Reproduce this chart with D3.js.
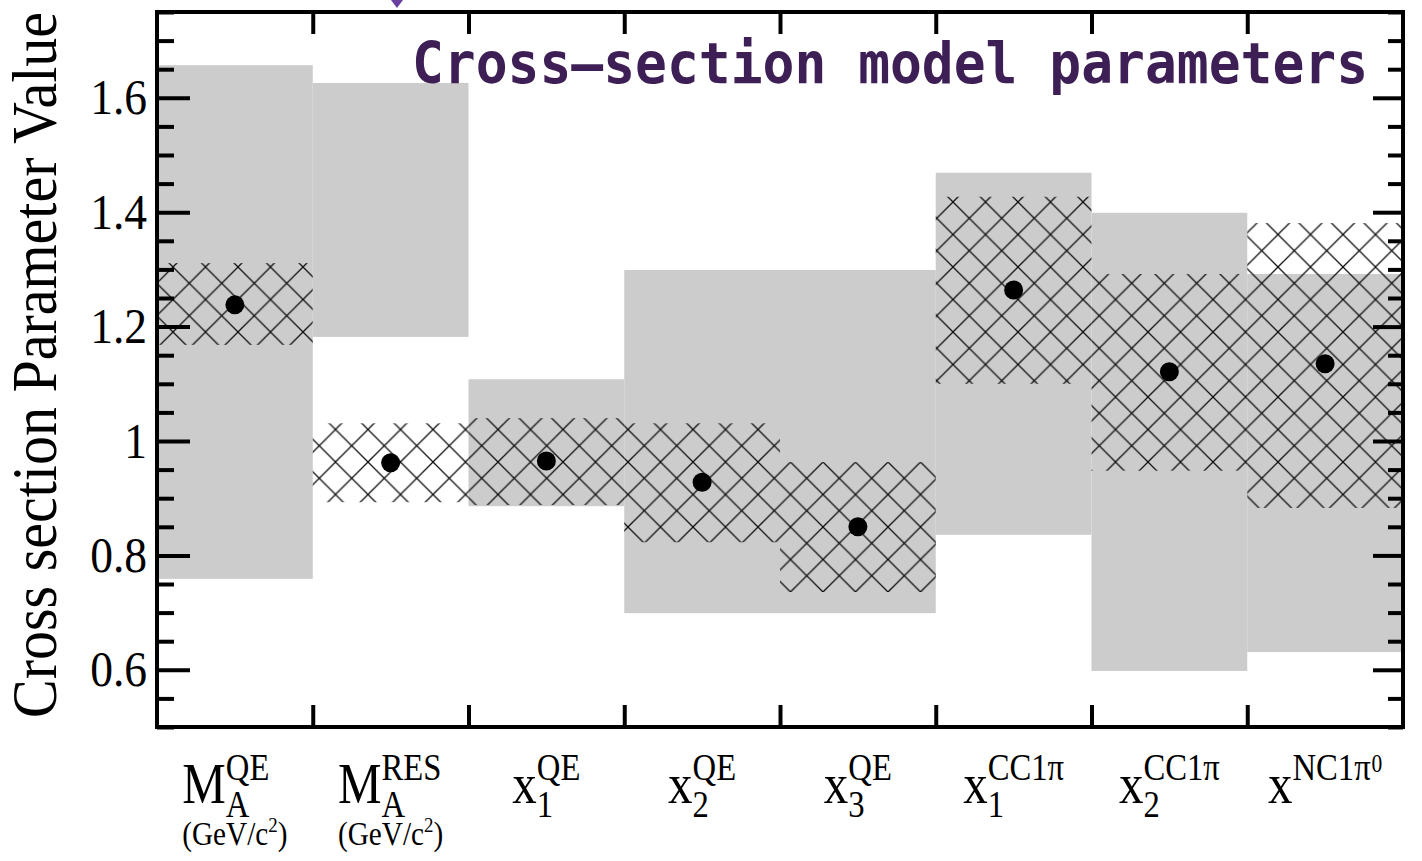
<!DOCTYPE html>
<html>
<head>
<meta charset="utf-8">
<script src="https://cdn.jsdelivr.net/npm/d3@7"></script>
<style>
  body { margin: 0; background: #fff; }
  svg { display: block; }
  text { font-family: "Liberation Serif", "Times New Roman", serif; fill: #000; }
</style>
</head>
<body>
<script>
// bin labels (main symbol, subscript, superscript, units)
var labelMain = ["M", "M", "x", "x", "x", "x", "x", "x"];
var labelSub = ["A", "A", "1", "2", "3", "1", "2", ""];
var labelSup = ["QE", "RES", "QE", "QE", "QE", "CC1\u03c0", "CC1\u03c0", "NC1\u03c0"];
var labelSupSup = ["", "", "", "", "", "", "", "0"];
var labelUnit = ["(GeV/c", "(GeV/c", "", "", "", "", "", ""];

// central values (black dots)
var centralValue = [1.238, 0.962, 0.965, 0.928, 0.850, 1.264, 1.121, 1.135];
// gray band
var grayLow = [0.759, 1.182, 0.886, 0.699, 0.699, 0.836, 0.598, 0.631];
var grayHigh = [1.657, 1.626, 1.108, 1.299, 1.299, 1.469, 1.399, 1.292];
// hatched band
var hatchLow = [1.168, 0.893, 0.888, 0.823, 0.736, 1.100, 0.948, 0.883];
var hatchHigh = [1.311, 1.031, 1.040, 1.031, 0.963, 1.427, 1.292, 1.381];

var yTicks = [0.6, 0.8, 1, 1.2, 1.4, 1.6];
var yTickLabels = ["0.6", "0.8", "1", "1.2", "1.4", "1.6"];

var titleText = "Cross\u2013section model parameters";
var yTitle = "Cross section Parameter Value";

//Frame
var W = 1422, H = 861;
var frame = {left: 157, right: 1403, top: 12, bottom: 727};
var squish = 0.91;

var svg = d3.select("body").append("svg")
    .attr("width", W)
    .attr("height", H);

var x = d3.scaleBand()
    .domain(d3.range(labelMain.length))
    .range([frame.left, frame.right])
    .padding(0);

var xEdge = d3.scaleLinear()
    .domain([0, labelMain.length])
    .range([frame.left, frame.right]);

var y = d3.scaleLinear()
    .domain([0.5, 1.75])
    .range([frame.bottom, frame.top]);

// hatch pattern
var defs = svg.append("defs");
var pat = defs.append("pattern")
    .attr("id", "xhatch")
    .attr("patternUnits", "userSpaceOnUse")
    .attr("x", 10.5).attr("y", 7)
    .attr("width", 32.5).attr("height", 32.5);
pat.append("path")
    .attr("d", "M0,0L32.5,32.5M0,32.5L32.5,0M-2,2L2,-2M30.5,34.5L34.5,30.5")
    .attr("stroke", "#111")
    .attr("stroke-width", 1.3)
    .attr("fill", "none");

// gray boxes
svg.append("g").selectAll("rect")
    .data(grayLow)
    .enter()
    .append("rect")
    .attr("x", function(d, i) { return x(i); })
    .attr("width", x.bandwidth())
    .attr("y", function(d, i) { return y(grayHigh[i]); })
    .attr("height", function(d, i) { return y(d) - y(grayHigh[i]); })
    .attr("fill", "#cccccc");

// hatched boxes
svg.append("g").selectAll("rect")
    .data(hatchLow)
    .enter()
    .append("rect")
    .attr("x", function(d, i) { return x(i); })
    .attr("width", x.bandwidth())
    .attr("y", function(d, i) { return y(hatchHigh[i]); })
    .attr("height", function(d, i) { return y(d) - y(hatchHigh[i]); })
    .attr("fill", "url(#xhatch)");

// points
svg.append("g").selectAll("circle")
    .data(centralValue)
    .enter()
    .append("circle")
    .attr("cx", function(d, i) { return x(i) + x.bandwidth() / 2; })
    .attr("cy", function(d) { return y(d); })
    .attr("r", 9.5)
    .attr("fill", "#000");

// axes (ticks pointing inward)
var minor = y.ticks(25).filter(function(v) { return yTicks.indexOf(+v.toFixed(2)) < 0; });

var yLeft = svg.append("g")
    .attr("transform", "translate(" + frame.left + ",0)")
    .call(d3.axisLeft(y).tickValues(yTicks).tickSize(-33).tickPadding(10)
        .tickFormat(function(d, i) { return yTickLabels[i]; }));
yLeft.selectAll("text")
    .attr("x", 0)
    .attr("transform", "translate(-10,0) scale(" + squish + ",1)")
    .style("font-size", "50px")
    .style("font-family", "'Liberation Serif', serif");

svg.append("g")
    .attr("transform", "translate(" + frame.left + ",0)")
    .call(d3.axisLeft(y).tickValues(minor).tickSize(-17).tickFormat(""));

svg.append("g")
    .attr("transform", "translate(" + frame.right + ",0)")
    .call(d3.axisRight(y).tickValues(yTicks).tickSize(-30).tickFormat(""));
svg.append("g")
    .attr("transform", "translate(" + frame.right + ",0)")
    .call(d3.axisRight(y).tickValues(minor).tickSize(-15).tickFormat(""));

svg.append("g")
    .attr("transform", "translate(0," + frame.bottom + ")")
    .call(d3.axisBottom(xEdge).tickValues(d3.range(1, labelMain.length)).tickSize(-22).tickFormat(""));
svg.append("g")
    .attr("transform", "translate(0," + frame.top + ")")
    .call(d3.axisTop(xEdge).tickValues(d3.range(1, labelMain.length)).tickSize(-22).tickFormat(""));

svg.selectAll(".domain").remove();
svg.selectAll(".tick line").attr("stroke", "#000").attr("stroke-width", 4);

// frame
svg.append("rect")
    .attr("x", frame.left).attr("y", frame.top)
    .attr("width", frame.right - frame.left)
    .attr("height", frame.bottom - frame.top)
    .attr("fill", "none")
    .attr("stroke", "#000")
    .attr("stroke-width", 4);

// x labels, one text per bin built from tspans
var labelSquish = 0.86;
var labelG = svg.append("g");
labelMain.forEach(function(m, i) {
    var g = labelG.append("g");
    var t = g.append("text").attr("x", 0).attr("y", 0);
    var main = t.append("tspan").attr("x", 0).attr("y", 0)
        .style("font-size", "57px").text(m);
    var w = main.node().getComputedTextLength();
    if (labelSub[i]) {
        t.append("tspan").attr("x", w).attr("y", 14)
            .style("font-size", "38px").text(labelSub[i]);
    }
    var sup = t.append("tspan").attr("x", w).attr("y", -23)
        .style("font-size", "38px").text(labelSup[i]);
    if (labelSupSup[i]) {
        var ws = sup.node().getComputedTextLength();
        t.append("tspan").attr("x", w + ws + 1).attr("y", -31)
            .style("font-size", "25px").text(labelSupSup[i]);
    }
    if (labelUnit[i]) {
        t.append("tspan").attr("x", 0).attr("y", 42)
            .style("font-size", "34px").text(labelUnit[i]);
        t.append("tspan").attr("y", 29).style("font-size", "22px").text("2");
        t.append("tspan").attr("y", 42).style("font-size", "34px").text(")");
    }
    var bb = t.node().getBBox();
    var cx = bb.x + bb.width / 2;
    g.attr("transform", "translate(" + (x(i) + x.bandwidth() / 2) + ",803) scale(" + labelSquish + ",1) translate(" + (-cx) + ",0)");
});

// y title
svg.append("text")
    .attr("transform", "translate(56," + frame.top + ") rotate(-90) scale(1,1.08)")
    .attr("text-anchor", "end")
    .style("font-size", "58px")
    .text(yTitle);

// title
svg.append("text")
    .attr("x", 412)
    .attr("y", 83)
    .attr("textLength", 956)
    .attr("lengthAdjust", "spacingAndGlyphs")
    .style("font-family", "'DejaVu Sans Mono', monospace")
    .style("font-weight", "bold")
    .style("font-size", "57px")
    .style("fill", "#3e1f55")
    .text(titleText);

// clipped marker at the top edge
svg.append("path")
    .attr("d", "M391,0L403,0L397,8Z")
    .attr("fill", "#6b3fa0");
</script>
</body>
</html>
